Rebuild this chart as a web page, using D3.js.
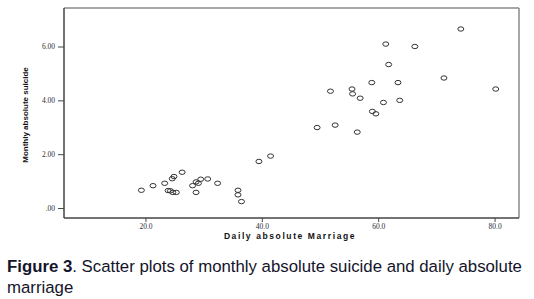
<!DOCTYPE html>
<html>
<head>
<script src="https://d3js.org/d3.v7.min.js"></script>
<style>
body { margin: 0; background: #fff; }
.caption {
  position: absolute; left: 7px; top: 256px; width: 527px;
  font-family: Arial, "Liberation Sans", sans-serif; font-size: 16.8px;
  line-height: 21px; color: #14142a;
}
.axis text { font-family: "Liberation Serif", "Times New Roman", serif; font-size: 7.5px; fill: #2a2a40; }
</style>
</head>
<body>
<div id="chart"></div>
<div class="caption"><b>Figure 3</b>. Scatter plots of monthly absolute suicide and daily absolute marriage</div>
<script>
// Daily absolute marriage (x) vs monthly absolute suicide (y)
var marriage = [19.3, 21.3, 23.3, 24.6, 24.9, 26.3, 23.9, 24.3, 24.7, 25.3,
  28.1, 28.7, 29.1, 29.5, 30.7, 28.7, 32.4, 35.9, 35.9, 36.5,
  39.5, 41.5, 61.3, 66.3, 61.8, 58.9, 63.4, 51.8, 55.5, 55.6,
  56.9, 60.9, 63.7, 59.0, 59.6, 49.5, 52.6, 56.4, 74.2, 71.3, 80.2];
var suicide = [0.66, 0.83, 0.92, 1.09, 1.17, 1.33, 0.65, 0.64, 0.58, 0.58,
  0.83, 0.97, 0.92, 1.07, 1.08, 0.58, 0.92, 0.66, 0.49, 0.24,
  1.73, 1.93, 6.09, 6.00, 5.33, 4.66, 4.66, 4.34, 4.42, 4.24,
  4.08, 3.92, 4.00, 3.59, 3.50, 2.99, 3.08, 2.82, 6.65, 4.83, 4.42];
var xTicks = [20, 40, 60, 80];
var yTicks = [0, 2, 4, 6];

var width = 534, height = 299;
var plotL = 64, plotR = 519, plotT = 8, plotB = 218;

var svg = d3.select("#chart").append("svg")
  .attr("width", width).attr("height", height);

var x = d3.scaleLinear().domain([6.0, 84.2]).range([plotL, plotR]);
var y = d3.scaleLinear().domain([-0.37, 7.43]).range([plotB, plotT]);

// frame: gray top/right, dark left/bottom
svg.append("line").attr("x1", plotL).attr("x2", plotR).attr("y1", plotT).attr("y2", plotT)
  .attr("stroke", "#8a8a8a").attr("stroke-width", 1.5);
svg.append("line").attr("x1", plotR).attr("x2", plotR).attr("y1", plotT).attr("y2", plotB)
  .attr("stroke", "#8a8a8a").attr("stroke-width", 1.5);

var yAxis = svg.append("g").attr("class", "axis")
  .attr("transform", "translate(" + plotL + ",0)")
  .call(d3.axisLeft(y).tickValues(yTicks).tickSize(6).tickPadding(3)
    .tickFormat(function (d) { return d === 0 ? ".00" : d3.format(".2f")(d); }));

var xAxis = svg.append("g").attr("class", "axis")
  .attr("transform", "translate(0," + plotB + ")")
  .call(d3.axisBottom(x).tickValues(xTicks).tickSize(4).tickPadding(2)
    .tickFormat(d3.format(".1f")));

svg.selectAll(".axis .domain").attr("stroke", "#444").attr("stroke-width", 1.5);
svg.selectAll(".axis .tick line").attr("stroke", "#444");
xAxis.select(".domain").attr("d", "M" + plotL + ",0H" + plotR);
yAxis.select(".domain").attr("d", "M0," + plotT + "V" + plotB);

var pts = marriage.map(function (m, i) { return { x: m, y: suicide[i] }; });
svg.append("g").selectAll("ellipse").data(pts).enter().append("ellipse")
  .attr("cx", function (d) { return x(d.x); })
  .attr("cy", function (d) { return y(d.y); })
  .attr("rx", 3).attr("ry", 2.2)
  .attr("fill", "none").attr("stroke", "#333").attr("stroke-width", 1);

svg.append("text")
  .attr("x", 290).attr("y", 239)
  .attr("text-anchor", "middle")
  .style("font-family", "Arial, 'Liberation Sans', sans-serif")
  .style("font-size", "8.5px").style("font-weight", "bold")
  .style("letter-spacing", "1.6px")
  .attr("fill", "#111")
  .text("Daily absolute Marriage");

svg.append("text")
  .attr("transform", "translate(28,115) rotate(-90)")
  .attr("text-anchor", "middle")
  .style("font-family", "Arial, 'Liberation Sans', sans-serif")
  .style("font-size", "8px").style("font-weight", "bold")
  .attr("fill", "#111")
  .text("Monthly absolute suicide");
</script>
</body>
</html>
